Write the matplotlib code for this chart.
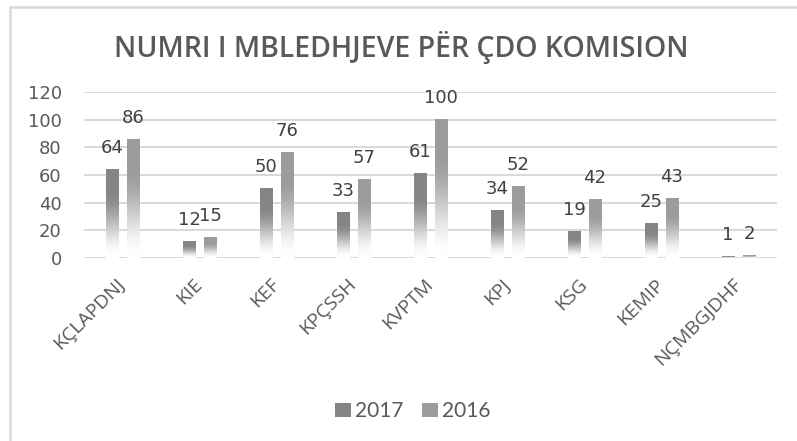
import numpy as np
import matplotlib
matplotlib.use("Agg")
import matplotlib.pyplot as plt
import matplotlib.transforms as mtransforms
from matplotlib.colors import LinearSegmentedColormap
from matplotlib.patches import Patch
from matplotlib.lines import Line2D

categories = ["KÇLAPDNJ", "KIE", "KEF", "KPÇSSH", "KVPTM", "KPJ", "KSG", "KEMIP", "NÇMBGJDHF"]
values_2017 = [64, 12, 50, 33, 61, 34, 19, 25, 1]
values_2016 = [86, 15, 76, 57, 100, 52, 42, 43, 2]
series_names = ["2017", "2016"]
title = "NUMRI I MBLEDHJEVE PËR ÇDO KOMISION"
yticks = [0, 20, 40, 60, 80, 100, 120]

top_colors = ["#858585", "#9c9c9c"]
text_col = "#595959"

fig = plt.figure(figsize=(7.97, 4.41), dpi=100)
fig.patch.set_facecolor("white")
ax = fig.add_axes([84/797, 1-258/441, (777-84)/797, (258-92)/441])

x = np.arange(len(categories))
bw = 0.16
off = 0.136

t = np.linspace(0, 1, 256)
ramp = np.clip(t / 0.75, 0, 1)
ramp = ramp * ramp * (3 - 2 * ramp)
grad = ramp[::-1].reshape(-1, 1)  # top row first

for s, (vals, col) in enumerate(zip([values_2017, values_2016], top_colors)):
    cmap = LinearSegmentedColormap.from_list(f"g{s}", ["#ffffff", col])
    sign = -1 if s == 0 else 1
    for i, v in enumerate(vals):
        xc = x[i] + sign * off
        ax.imshow(grad, cmap=cmap, vmin=0, vmax=1, aspect="auto",
                  extent=[xc - bw/2, xc + bw/2, 0, v], zorder=3, interpolation="bilinear")
        ax.annotate(str(v), (xc, v), xytext=(0, 15.5), textcoords="offset points",
                    ha="center", va="center", fontsize=13, color="#404040",
                    family="DejaVu Sans", zorder=4)

ax.set_xlim(-0.5, len(categories) - 0.5)
ax.set_ylim(0, 120)
ax.set_yticks(yticks)
ax.set_yticklabels([str(v) for v in yticks], fontsize=13, color=text_col, family="DejaVu Sans")
ax.set_xticks(x)
ax.set_xticklabels(categories, rotation=45, ha="right", va="center", rotation_mode="anchor",
                   fontsize=14, color=text_col, family="Open Sans")
shift = mtransforms.ScaledTranslation(-5/100, 0, fig.dpi_scale_trans)
for lbl in ax.get_xticklabels():
    lbl.set_transform(lbl.get_transform() + shift)
ax.tick_params(axis="both", length=0)
ax.tick_params(axis="y", pad=16)
ax.tick_params(axis="x", pad=17)
for sp in ax.spines.values():
    sp.set_visible(False)
ax.yaxis.grid(True, color="#d6d6d6", linewidth=1.3, zorder=0)
ax.set_axisbelow(True)

fig.text(401/797, 1-47/441, title, ha="center", va="center", fontsize=20.5,
         color=text_col, family="Open Sans", fontweight="semibold")

handles = [Patch(facecolor=c, edgecolor="none") for c in top_colors]
leg = fig.legend(handles, series_names, loc="center", bbox_to_anchor=(413/797, 1-411/441),
                 ncol=2, frameon=False, prop={"family": "Lato", "size": 15},
                 handlelength=0.75, handleheight=0.65, handletextpad=0.2, columnspacing=0.9)
for txt in leg.get_texts():
    txt.set_color(text_col)

fig.add_artist(Line2D([10/797, 10/797], [0, 1-7/441], transform=fig.transFigure,
                      color="#d9d9d9", linewidth=1.8))
fig.add_artist(Line2D([10/797, 1], [1-7/441, 1-7/441], transform=fig.transFigure,
                      color="#d9d9d9", linewidth=1.8))

fig.savefig("out.png", dpi=100, facecolor="white")
